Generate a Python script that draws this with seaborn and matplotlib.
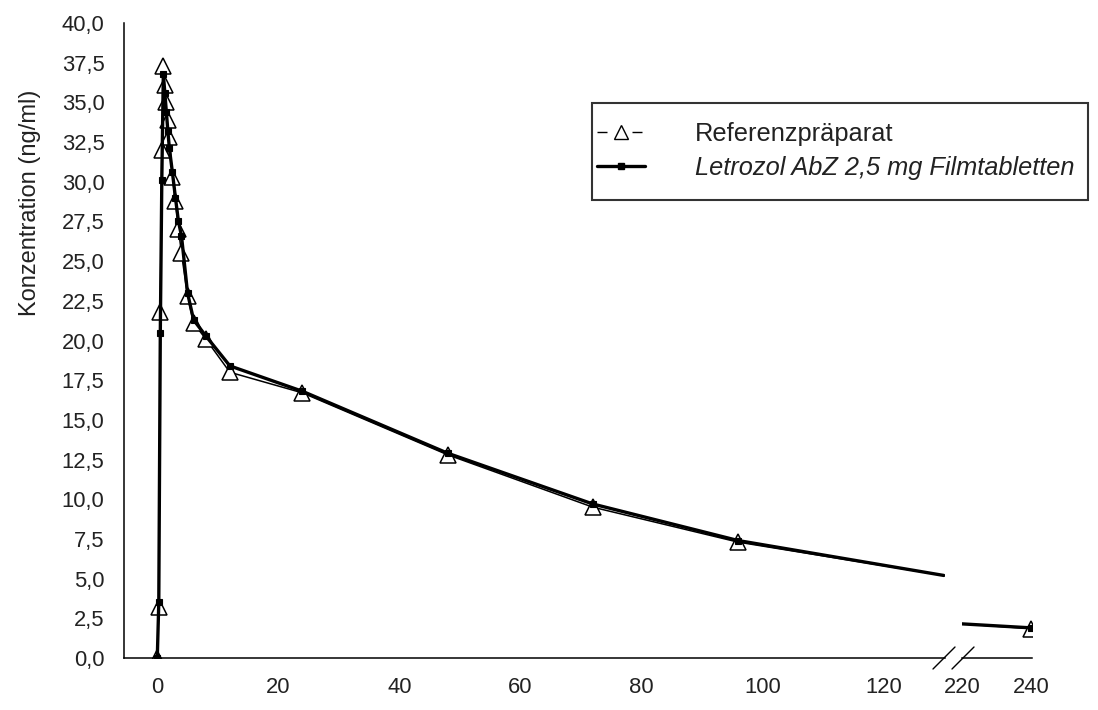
import matplotlib
matplotlib.use("Agg")
import matplotlib.pyplot as plt
import seaborn as sns
import numpy as np
from matplotlib.lines import Line2D
from matplotlib.patches import Rectangle

# Sampling times (h) and mean concentrations (ng/ml)
times = [0, 0.25, 0.5, 0.75, 1, 1.25, 1.5, 1.75, 2, 2.5, 3, 3.5, 4, 5, 6, 8, 12, 24, 48, 72, 96]
conc_ref = [0.0, 3.2, 21.8, 32.0, 37.3, 36.1, 35.0, 33.9, 32.8, 30.3, 28.8, 27.0, 25.5, 22.8, 21.1, 20.1, 18.0, 16.7, 12.8, 9.5, 7.3]
conc_test = [0.0, 3.5, 20.5, 30.1, 36.8, 35.6, 34.4, 33.2, 32.1, 30.6, 29.0, 27.5, 26.6, 23.0, 21.3, 20.3, 18.4, 16.8, 12.9, 9.7, 7.4]

# line continuing past 96 h up to the axis break
tail_t = [96, 130]
tail_ref = [7.3, 5.2]
tail_test = [7.4, 5.2]

# segment after the break
late_t = [220, 240]
late_ref = [2.15, 1.85]
late_test = [2.15, 1.9]

y_major = np.arange(0, 40.1, 5)
y_minor = np.arange(2.5, 40, 5)
x_major = [0, 40, 80, 120]
x_minor = [20, 60, 100]

sns.set_theme(style="white")
plt.rcParams['font.family'] = ['Liberation Sans', 'DejaVu Sans']
FS = 15.8
TXT = '#222222'

fig = plt.figure(figsize=(10.98, 7.10), dpi=100)
W, H = 1098, 710
y0, y1 = 658, 23
ax = fig.add_axes([124 / W, 1 - y0 / H, (945 - 124) / W, (y0 - y1) / H])
ax2 = fig.add_axes([962 / W, 1 - y0 / H, (1031.5 - 962) / W, (y0 - y1) / H])

ref_kw = dict(color='black', linewidth=1.1, marker='^', markersize=11,
              markerfacecolor='white', markeredgecolor='black', markeredgewidth=1.1)
test_kw = dict(color='black', linewidth=2.4, marker='s', markersize=4.5,
               markerfacecolor='black', markeredgecolor='black', markeredgewidth=0.8)

sns.lineplot(x=times, y=conc_ref, ax=ax, legend=False, **ref_kw)
sns.lineplot(x=times, y=conc_test, ax=ax, legend=False, **test_kw)
sns.lineplot(x=tail_t, y=tail_ref, ax=ax, legend=False, color='black', linewidth=1.1)
sns.lineplot(x=tail_t, y=tail_test, ax=ax, legend=False, color='black', linewidth=2.4)

sns.lineplot(x=late_t, y=late_ref, ax=ax2, legend=False, color='black', linewidth=1.1)
sns.lineplot(x=late_t, y=late_test, ax=ax2, legend=False, color='black', linewidth=2.4)
sns.lineplot(x=late_t[-1:], y=late_ref[-1:], ax=ax2, legend=False, **ref_kw)
sns.lineplot(x=late_t[-1:], y=late_test[-1:], ax=ax2, legend=False, **test_kw)

fmt = lambda v: f"{v:.1f}".replace('.', ',')

ax.set_xlim(-5.5, 130.2)
ax.set_ylim(0, 40)
ax.set_yticks(y_major, labels=[fmt(v) for v in y_major])
ax.set_yticks(y_minor, labels=[fmt(v) for v in y_minor], minor=True)
ax.set_xticks(x_major, labels=[str(v) for v in x_major])
ax.set_xticks(x_minor, labels=[str(v) for v in x_minor], minor=True)
ax.tick_params(which='major', direction='out', length=8, width=1.1, color='black',
               labelsize=FS, labelcolor=TXT, pad=6)
ax.tick_params(which='minor', direction='in', length=6, width=1.1, color='black',
               labelsize=FS, labelcolor=TXT, pad=14)
ax.set_xlabel('')
ax.set_ylabel('Konzentration (ng/ml)', fontsize=17, color=TXT)
ax.yaxis.set_label_coords(-0.101, 0.717)

ax2.set_xlim(220, 240.2)
ax2.set_ylim(0, 40)
ax2.set_xticks(late_t, labels=[str(v) for v in late_t])
ax2.set_yticks([])
ax2.tick_params(axis='x', direction='out', length=8, width=1.1, color='black',
                labelsize=FS, labelcolor=TXT, pad=6)
ax2.xaxis.get_major_ticks()[0].tick1line.set_visible(False)

for a in (ax, ax2):
    a.patch.set_alpha(0)
    for s in ('top', 'right'):
        a.spines[s].set_visible(False)
    for s in ('left', 'bottom'):
        a.spines[s].set_color('black')
        a.spines[s].set_linewidth(1.1)
ax2.spines['left'].set_visible(False)

# break marks on the x axis
for xc in (944, 963):
    fig.add_artist(Line2D([(xc - 11) / W, (xc + 11) / W], [1 - 669 / H, 1 - 647 / H],
                          color='black', linewidth=1.0))

# legend box
fig.add_artist(Rectangle((592 / W, 1 - 200 / H), (1088 - 592) / W, (200 - 103) / H,
                         transform=fig.transFigure, facecolor='white',
                         edgecolor='#333333', linewidth=1.5, zorder=5))

handles = [
    Line2D([], [], color='black', linewidth=1.0, linestyle=(0, (7.2, 18)),
           marker='^', markersize=10, markerfacecolor='white', markeredgecolor='black',
           markeredgewidth=1.0),
    Line2D([], [], color='black', linewidth=2.4, marker='s', markersize=4.5,
           markerfacecolor='black', markeredgecolor='black'),
]
leg = fig.legend(handles, ['Referenzpräparat', 'Letrozol AbZ 2,5 mg Filmtabletten'],
                 loc='upper left', bbox_to_anchor=(597 / W, 1 - 122 / H),
                 fontsize=18.3, frameon=False, handlelength=1.9, handletextpad=1.95,
                 borderpad=0, labelspacing=0.4, borderaxespad=0)
leg.set_zorder(6)
for t in leg.get_texts():
    t.set_color(TXT)
leg.get_texts()[1].set_fontstyle('italic')

fig.savefig('out.png', dpi=100)
